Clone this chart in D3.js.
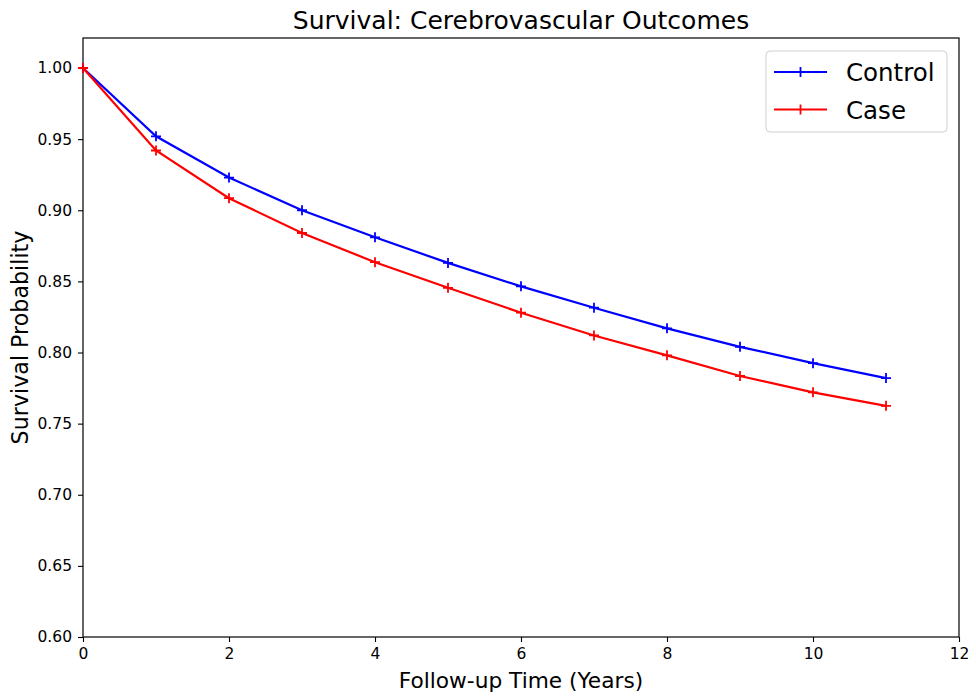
<!DOCTYPE html>
<html>
<head>
<meta charset="utf-8">
<script src="https://cdn.jsdelivr.net/npm/d3@7"></script>
<style>
  html, body { margin: 0; padding: 0; background: #fff; }
  svg { display: block; font-family: "DejaVu Sans", sans-serif; }
</style>
</head>
<body>
<svg id="chart" width="976" height="696"></svg>
<script>
const years = [0, 1, 2, 3, 4, 5, 6, 7, 8, 9, 10, 11];
const controlValues = [1.000, 0.952, 0.923, 0.900, 0.881, 0.863, 0.8465, 0.8315, 0.817, 0.804, 0.7925, 0.782];
const caseValues    = [1.000, 0.942, 0.9085, 0.884, 0.8635, 0.8455, 0.828, 0.812, 0.798, 0.7835, 0.772, 0.7625];
const seriesNames = ["Control", "Case"];
const seriesColors = ["#0000ff", "#ff0000"];
const xTicks = [0, 2, 4, 6, 8, 10, 12];
const yTicks = [0.60, 0.65, 0.70, 0.75, 0.80, 0.85, 0.90, 0.95, 1.00];

const svg = d3.select("#chart");
const m = { left: 83, right: 959, top: 38, bottom: 637 };

const x = d3.scaleLinear().domain([0, 12]).range([m.left, m.right]);
const y = d3.scaleLinear().domain([0.6, 1.0211]).range([m.bottom, m.top]);

// axes
const xAxis = d3.axisBottom(x).tickValues(xTicks).tickFormat(d3.format("d")).tickSize(5).tickPadding(6);
const yAxis = d3.axisLeft(y).tickValues(yTicks).tickFormat(d3.format(".2f")).tickSize(5).tickPadding(6);

const gx = svg.append("g").attr("transform", `translate(0,${m.bottom})`).call(xAxis);
const gy = svg.append("g").attr("transform", `translate(${m.left},0)`).call(yAxis);
[gx, gy].forEach(g => {
  g.select(".domain").remove();
  g.selectAll(".tick line").attr("stroke", "#000").attr("stroke-width", 1.1);
  g.selectAll(".tick text").attr("fill", "#000").style("font-size", "15.5px").style("font-family", "DejaVu Sans, sans-serif");
});

// frame
svg.append("rect")
  .attr("x", m.left).attr("y", m.top)
  .attr("width", m.right - m.left).attr("height", m.bottom - m.top)
  .attr("fill", "none").attr("stroke", "#000").attr("stroke-width", 1.2);

// series
const series = [controlValues, caseValues];
const line = d3.line().x((d, i) => x(years[i])).y(d => y(d));
series.forEach((vals, si) => {
  const g = svg.append("g");
  g.append("path").datum(vals)
    .attr("d", line).attr("fill", "none")
    .attr("stroke", seriesColors[si]).attr("stroke-width", 2.2);
  g.selectAll("path.mk").data(vals).enter().append("path")
    .attr("class", "mk")
    .attr("d", (d, i) => {
      const cx = x(years[i]), cy = y(d), s = 5;
      return `M${cx - s},${cy}H${cx + s}M${cx},${cy - s}V${cy + s}`;
    })
    .attr("stroke", seriesColors[si]).attr("stroke-width", 1.8).attr("fill", "none");
});

// title and labels
svg.append("text").attr("x", (m.left + m.right) / 2).attr("y", 29)
  .attr("text-anchor", "middle").style("font-size", "25px").attr("fill", "#000")
  .text("Survival: Cerebrovascular Outcomes");
svg.append("text").attr("x", (m.left + m.right) / 2).attr("y", 688)
  .attr("text-anchor", "middle").style("font-size", "21.7px").attr("fill", "#000")
  .text("Follow-up Time (Years)");
svg.append("text").attr("transform", `translate(28,${(m.top + m.bottom) / 2}) rotate(-90)`)
  .attr("text-anchor", "middle").style("font-size", "22.2px").attr("fill", "#000")
  .text("Survival Probability");

// legend
const lg = svg.append("g");
lg.append("rect").attr("x", 766).attr("y", 51).attr("width", 181).attr("height", 81)
  .attr("rx", 4).attr("fill", "#fff").attr("fill-opacity", 0.8)
  .attr("stroke", "#d0d0d0").attr("stroke-width", 1);
seriesNames.forEach((name, i) => {
  const ly = 72 + i * 37.5;
  lg.append("line").attr("x1", 774).attr("x2", 827).attr("y1", ly).attr("y2", ly)
    .attr("stroke", seriesColors[i]).attr("stroke-width", 2.2);
  lg.append("path").attr("d", `M800.5,${ly - 5}V${ly + 5}`)
    .attr("stroke", seriesColors[i]).attr("stroke-width", 1.8);
  lg.append("text").attr("x", 846).attr("y", ly + 9)
    .style("font-size", "24.5px").attr("fill", "#000").text(name);
});
</script>
</body>
</html>
